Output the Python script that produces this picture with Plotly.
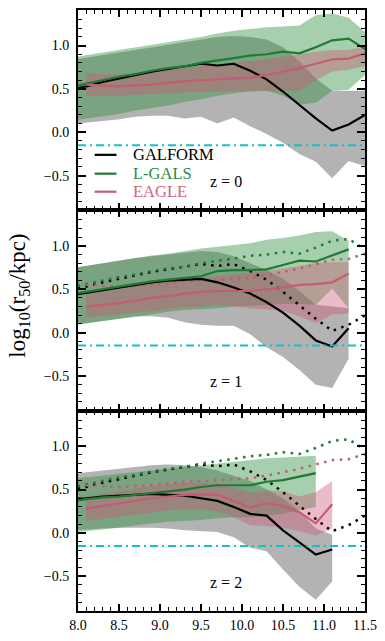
import plotly.graph_objects as go
from plotly.subplots import make_subplots

# ---- stellar-mass bins (log10 M*/Msun) ----
m_z0 = [7.9, 8.1, 8.3, 8.5, 8.7, 8.9, 9.1, 9.3, 9.5, 9.7, 9.9, 10.1, 10.3, 10.5, 10.7, 10.9, 11.1, 11.3, 11.5]
m_z0_eagle = m_z0[1:]
m_z1 = m_z0[:-1]
m_z1_eagle = m_z0[1:-1]
m_z2_galform = m_z0[:-2]
m_z2_lgals = m_z0[:-3]
m_z2_eagle = m_z0[1:-2]

# ---- z = 0 medians and 10-90 percentile ranges ----
galform_z0 = [0.49, 0.53, 0.58, 0.62, 0.66, 0.70, 0.73, 0.76, 0.79, 0.77, 0.79, 0.71, 0.61, 0.47, 0.31, 0.16, 0.02, 0.09, 0.20]
galform_z0_lo = [0.09, 0.11, 0.13, 0.15, 0.18, 0.19, 0.19, 0.16, 0.18, 0.10, 0.17, 0.07, -0.02, -0.12, -0.25, -0.34, -0.53, -0.33, -0.39]
galform_z0_hi = [0.83, 0.86, 0.89, 0.92, 0.95, 0.98, 1.01, 1.04, 1.07, 1.10, 1.11, 1.10, 1.07, 0.98, 0.82, 0.62, 0.48, 0.48, 0.48]
lgals_z0 = [0.52, 0.56, 0.60, 0.64, 0.67, 0.71, 0.74, 0.76, 0.80, 0.825, 0.855, 0.885, 0.90, 0.93, 0.91, 0.98, 1.06, 1.08, 0.96]
lgals_z0_lo = [0.13, 0.15, 0.18, 0.21, 0.25, 0.28, 0.31, 0.35, 0.38, 0.42, 0.45, 0.47, 0.48, 0.42, 0.32, 0.34, 0.48, 0.49, 0.66]
lgals_z0_hi = [0.86, 0.89, 0.92, 0.95, 0.98, 1.01, 1.04, 1.07, 1.10, 1.14, 1.17, 1.19, 1.21, 1.22, 1.23, 1.35, 1.37, 1.32, 1.16]
eagle_z0 = [0.55, 0.54, 0.53, 0.54, 0.55, 0.57, 0.59, 0.60, 0.61, 0.62, 0.63, 0.66, 0.70, 0.74, 0.79, 0.84, 0.85, 0.91]
eagle_z0_lo = [0.42, 0.42, 0.42, 0.43, 0.44, 0.45, 0.46, 0.46, 0.47, 0.48, 0.48, 0.48, 0.48, 0.48, 0.60, 0.70, 0.72, 0.76]
eagle_z0_hi = [0.68, 0.67, 0.67, 0.68, 0.70, 0.72, 0.74, 0.76, 0.78, 0.80, 0.82, 0.84, 0.87, 0.90, 0.93, 0.95, 0.95, 0.99]

# ---- z = 1 ----
galform_z1 = [0.43, 0.46, 0.49, 0.52, 0.55, 0.58, 0.60, 0.61, 0.62, 0.58, 0.52, 0.45, 0.35, 0.23, 0.08, -0.09, -0.16, 0.05]
galform_z1_lo = [0.08, 0.10, 0.13, 0.16, 0.19, 0.19, 0.17, 0.12, 0.09, 0.08, 0.08, -0.02, -0.17, -0.28, -0.43, -0.60, -0.64, -0.30]
galform_z1_hi = [0.74, 0.77, 0.80, 0.83, 0.86, 0.88, 0.90, 0.92, 0.94, 0.93, 0.88, 0.80, 0.72, 0.62, 0.48, 0.32, 0.30, 0.28]
lgals_z1 = [0.44, 0.47, 0.50, 0.53, 0.56, 0.59, 0.61, 0.63, 0.65, 0.71, 0.72, 0.72, 0.73, 0.78, 0.83, 0.82, 0.89, 0.96]
lgals_z1_lo = [0.08, 0.10, 0.13, 0.16, 0.18, 0.21, 0.24, 0.26, 0.27, 0.28, 0.30, 0.31, 0.32, 0.33, 0.33, 0.32, 0.51, 0.28]
lgals_z1_hi = [0.74, 0.77, 0.80, 0.83, 0.86, 0.89, 0.91, 0.94, 0.97, 0.99, 1.01, 1.03, 1.07, 1.09, 1.12, 1.16, 1.17, 1.06]
eagle_z1 = [0.30, 0.32, 0.34, 0.37, 0.40, 0.42, 0.45, 0.47, 0.48, 0.48, 0.48, 0.50, 0.52, 0.55, 0.56, 0.58, 0.68]
eagle_z1_lo = [0.18, 0.19, 0.21, 0.23, 0.25, 0.27, 0.29, 0.30, 0.32, 0.30, 0.28, 0.27, 0.25, 0.19, 0.11, 0.21, 0.22]
eagle_z1_hi = [0.45, 0.47, 0.50, 0.53, 0.56, 0.58, 0.61, 0.63, 0.65, 0.67, 0.69, 0.71, 0.74, 0.77, 0.80, 0.81, 0.81]

# ---- z = 2 ----
galform_z2 = [0.39, 0.40, 0.42, 0.43, 0.44, 0.45, 0.44, 0.43, 0.40, 0.37, 0.30, 0.22, 0.20, 0.03, -0.11, -0.25, -0.19]
galform_z2_lo = [0.03, 0.04, 0.05, 0.06, 0.06, 0.06, 0.05, 0.03, 0.02, 0.01, -0.05, -0.17, -0.21, -0.42, -0.62, -0.77, -0.56]
galform_z2_hi = [0.67, 0.70, 0.72, 0.74, 0.76, 0.78, 0.79, 0.78, 0.76, 0.72, 0.66, 0.60, 0.50, 0.40, 0.25, 0.05, -0.02]
lgals_z2 = [0.36, 0.39, 0.41, 0.42, 0.44, 0.46, 0.48, 0.50, 0.53, 0.55, 0.55, 0.55, 0.59, 0.61, 0.65, 0.69]
lgals_z2_lo = [0.00, 0.02, 0.04, 0.06, 0.09, 0.11, 0.13, 0.14, 0.15, 0.17, 0.18, 0.18, 0.20, 0.22, 0.26, 0.30]
lgals_z2_hi = [0.62, 0.64, 0.66, 0.68, 0.70, 0.72, 0.74, 0.76, 0.78, 0.80, 0.82, 0.84, 0.86, 0.87, 0.88, 0.89]
eagle_z2 = [0.28, 0.31, 0.34, 0.37, 0.40, 0.42, 0.44, 0.445, 0.44, 0.37, 0.29, 0.345, 0.31, 0.24, 0.11, 0.33]
eagle_z2_lo = [0.14, 0.16, 0.19, 0.21, 0.24, 0.26, 0.27, 0.27, 0.25, 0.18, 0.09, 0.08, 0.06, 0.02, -0.03, 0.05]
eagle_z2_hi = [0.42, 0.45, 0.48, 0.51, 0.54, 0.56, 0.58, 0.58, 0.57, 0.52, 0.46, 0.49, 0.48, 0.42, 0.47, 0.60]

redshift_labels = ["z = 0", "z = 1", "z = 2"]
model_names = ["GALFORM", "L-GALS", "EAGLE"]
resolution_limit = -0.15  # log10 of the softening scale

x_ticks = [8.0, 8.5, 9.0, 9.5, 10.0, 10.5, 11.0, 11.5]
y_ticks = [-0.5, 0.0, 0.5, 1.0]

# ---- styles ----
FONT = "Liberation Serif"
line_col = {"GALFORM": "#000000", "L-GALS": "#1f7a34", "EAGLE": "#c65b74"}
text_col = {"GALFORM": "#000000", "L-GALS": "#2a8a45", "EAGLE": "#d0647c"}
fill_col = {"GALFORM": "rgba(128,128,128,0.6)",
            "L-GALS": "rgba(40,140,60,0.42)",
            "EAGLE": "rgba(205,85,115,0.40)"}
cyan = "#17c0c6"

panels = [
    {"GALFORM": (m_z0, galform_z0, galform_z0_lo, galform_z0_hi),
     "L-GALS": (m_z0, lgals_z0, lgals_z0_lo, lgals_z0_hi),
     "EAGLE": (m_z0_eagle, eagle_z0, eagle_z0_lo, eagle_z0_hi)},
    {"GALFORM": (m_z1, galform_z1, galform_z1_lo, galform_z1_hi),
     "L-GALS": (m_z1, lgals_z1, lgals_z1_lo, lgals_z1_hi),
     "EAGLE": (m_z1_eagle, eagle_z1, eagle_z1_lo, eagle_z1_hi)},
    {"GALFORM": (m_z2_galform, galform_z2, galform_z2_lo, galform_z2_hi),
     "L-GALS": (m_z2_lgals, lgals_z2, lgals_z2_lo, lgals_z2_hi),
     "EAGLE": (m_z2_eagle, eagle_z2, eagle_z2_lo, eagle_z2_hi)},
]

fig = make_subplots(rows=3, cols=1, shared_xaxes=True, vertical_spacing=0)

for i, panel in enumerate(panels):
    row = i + 1
    # shaded 10-90 percentile ranges
    for name in model_names:
        x, med, lo, hi = panel[name]
        fig.add_trace(go.Scatter(
            x=list(x) + list(x)[::-1], y=list(hi) + list(lo)[::-1],
            fill="toself", fillcolor=fill_col[name], line=dict(width=0),
            mode="lines", hoverinfo="skip", showlegend=False), row=row, col=1)
    # z = 0 medians repeated as dotted references in the higher-z panels
    if i > 0:
        for name in model_names:
            x, med, lo, hi = panels[0][name]
            fig.add_trace(go.Scatter(
                x=x, y=med, mode="lines",
                line=dict(color=line_col[name], width=2.5, dash="2.5px,5.5px"),
                showlegend=False), row=row, col=1)
    # medians
    for name in model_names:
        x, med, lo, hi = panel[name]
        fig.add_trace(go.Scatter(
            x=x, y=med, mode="lines",
            line=dict(color=line_col[name], width=2.2),
            showlegend=False), row=row, col=1)
    fig.add_hline(y=resolution_limit, line=dict(color=cyan, width=2, dash="8px,4px,2px,4px"),
                  row=row, col=1)
    fig.add_annotation(text=redshift_labels[i], x=9.8, y=-0.56, xref=f"x{'' if row == 1 else row}",
                       yref=f"y{'' if row == 1 else row}", showarrow=False, height=16,
                       font=dict(family=FONT, size=16, color="black"))

axis_common = dict(showline=True, linewidth=2, linecolor="black", mirror="allticks",
                   ticks="inside", tickwidth=1.5, tickcolor="black", showgrid=False,
                   zeroline=False, tickformat=".1f",
                   tickfont=dict(family=FONT, size=14, color="black"))

for r in range(1, 4):
    fig.update_xaxes(range=[8.0, 11.5], tickvals=x_ticks, ticklen=7,
                     minor=dict(ticks="inside", ticklen=4, dtick=0.1, tick0=8.0,
                                tickwidth=1.2, tickcolor="black", showgrid=False),
                     row=r, col=1, **axis_common)
    fig.update_yaxes(range=[-0.9, 1.41], tickvals=y_ticks, ticklen=8,
                     minor=dict(ticks="inside", ticklen=4, dtick=0.1, tick0=0.0,
                                tickwidth=1.2, tickcolor="black", showgrid=False),
                     ticklabelstandoff=4,
                     row=r, col=1, **axis_common)

# legend drawn in the top panel
legend_y = [0.277, 0.183, 0.093]
for name, ly in zip(model_names, legend_y):
    fig.add_shape(type="line", xref="x domain", yref="y domain",
                  x0=0.058, x1=0.134, y0=ly, y1=ly,
                  line=dict(color=line_col[name], width=2.2))
    fig.add_annotation(text=name, xref="x domain", yref="y domain", x=0.186, y=ly,
                       xanchor="left", yanchor="middle", showarrow=False, height=15,
                       font=dict(family=FONT, size=16.5, color=text_col[name]))

fig.add_annotation(text="log<sub>10</sub>(r<sub>50</sub>/kpc)", xref="paper", yref="paper",
                   x=-0.205, y=0.525, textangle=-90, showarrow=False,
                   xanchor="center", yanchor="middle",
                   font=dict(family=FONT, size=23, color="black"))

fig.update_layout(width=385, height=641, margin=dict(l=78, r=16, t=8, b=24),
                  paper_bgcolor="white", plot_bgcolor="white", showlegend=False)

fig.write_html("out.html")
